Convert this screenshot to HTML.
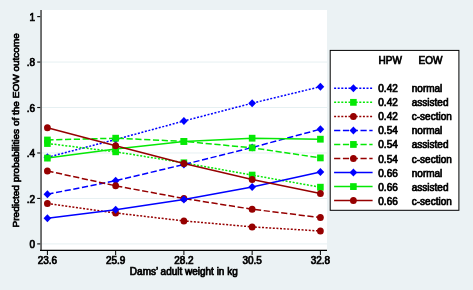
<!DOCTYPE html>
<html><head><meta charset="utf-8"><title>Predicted probabilities</title>
<style>
html,body{margin:0;padding:0;background:#ebf2f4;}
body{width:473px;height:290px;overflow:hidden;}
svg{display:block;will-change:transform;}
text{font-family:"Liberation Sans",Arial,sans-serif;font-size:10px;fill:#000;stroke:#000;stroke-width:0.7px;}
</style></head><body>
<svg width="473" height="290" viewBox="0 0 473 290">
<rect x="0" y="0" width="473" height="290" fill="#ebf2f4"/>
<rect x="41" y="10" width="286" height="240.5" fill="#ffffff"/>
<line x1="41" x2="327" y1="243.90" y2="243.90" stroke="#e6f0f2" stroke-width="1"/>
<line x1="41" x2="327" y1="198.44" y2="198.44" stroke="#e6f0f2" stroke-width="1"/>
<line x1="41" x2="327" y1="152.98" y2="152.98" stroke="#e6f0f2" stroke-width="1"/>
<line x1="41" x2="327" y1="107.52" y2="107.52" stroke="#e6f0f2" stroke-width="1"/>
<line x1="41" x2="327" y1="62.06" y2="62.06" stroke="#e6f0f2" stroke-width="1"/>
<line x1="41.05" x2="41.05" y1="10" y2="250.9" stroke="#5a5a5a" stroke-width="1.7"/>
<line x1="40" x2="327" y1="250.4" y2="250.4" stroke="#000" stroke-width="1.1"/>
<line x1="37.2" x2="40.3" y1="243.90" y2="243.90" stroke="#111" stroke-width="1.15"/>
<text transform="translate(35.10,248.25) scale(1,1.04)" text-anchor="end">0</text>
<line x1="37.2" x2="40.3" y1="198.44" y2="198.44" stroke="#111" stroke-width="1.15"/>
<text transform="translate(35.10,202.79) scale(1,1.04)" text-anchor="end">.2</text>
<line x1="37.2" x2="40.3" y1="152.98" y2="152.98" stroke="#111" stroke-width="1.15"/>
<text transform="translate(35.10,157.33) scale(1,1.04)" text-anchor="end">.4</text>
<line x1="37.2" x2="40.3" y1="107.52" y2="107.52" stroke="#111" stroke-width="1.15"/>
<text transform="translate(35.10,111.87) scale(1,1.04)" text-anchor="end">.6</text>
<line x1="37.2" x2="40.3" y1="62.06" y2="62.06" stroke="#111" stroke-width="1.15"/>
<text transform="translate(35.10,66.41) scale(1,1.04)" text-anchor="end">.8</text>
<line x1="37.2" x2="40.3" y1="16.60" y2="16.60" stroke="#111" stroke-width="1.15"/>
<text transform="translate(35.10,20.95) scale(1,1.04)" text-anchor="end">1</text>
<line x1="47.4" x2="47.4" y1="250.5" y2="255.0" stroke="#000" stroke-width="1"/>
<text transform="translate(47.40,263.80) scale(1,1.04)" text-anchor="middle">23.6</text>
<line x1="115.65" x2="115.65" y1="250.5" y2="255.0" stroke="#000" stroke-width="1"/>
<text transform="translate(115.65,263.80) scale(1,1.04)" text-anchor="middle">25.9</text>
<line x1="183.9" x2="183.9" y1="250.5" y2="255.0" stroke="#000" stroke-width="1"/>
<text transform="translate(183.90,263.80) scale(1,1.04)" text-anchor="middle">28.2</text>
<line x1="252.15" x2="252.15" y1="250.5" y2="255.0" stroke="#000" stroke-width="1"/>
<text transform="translate(252.15,263.80) scale(1,1.04)" text-anchor="middle">30.5</text>
<line x1="320.4" x2="320.4" y1="250.5" y2="255.0" stroke="#000" stroke-width="1"/>
<text transform="translate(320.40,263.80) scale(1,1.04)" text-anchor="middle">32.8</text>
<text transform="translate(183.80,274.60) scale(1,1.04)" text-anchor="middle">Dams’ adult weight in kg</text>
<text transform="translate(19.4,130.3) rotate(-90) scale(1.002,0.9)" text-anchor="middle" >Predicted probabilities of the EOW outcome</text>
<polyline points="47.40,157.30 115.65,139.50 183.90,121.00 252.15,103.20 320.40,86.70" fill="none" stroke="#0000ff" stroke-width="1.5" stroke-dasharray="2 1.6"/>
<polygon points="43.55,157.30 47.40,153.30 51.25,157.30 47.40,161.30" fill="#0000ff"/>
<polygon points="111.80,139.50 115.65,135.50 119.50,139.50 115.65,143.50" fill="#0000ff"/>
<polygon points="180.05,121.00 183.90,117.00 187.75,121.00 183.90,125.00" fill="#0000ff"/>
<polygon points="248.30,103.20 252.15,99.20 256.00,103.20 252.15,107.20" fill="#0000ff"/>
<polygon points="316.55,86.70 320.40,82.70 324.25,86.70 320.40,90.70" fill="#0000ff"/>
<polyline points="47.40,143.50 115.65,151.80 183.90,162.80 252.15,175.10 320.40,187.20" fill="none" stroke="#05e805" stroke-width="1.5" stroke-dasharray="2 1.6"/>
<rect x="44.10" y="140.10" width="6.6" height="6.8" fill="#05e805"/>
<rect x="112.35" y="148.40" width="6.6" height="6.8" fill="#05e805"/>
<rect x="180.60" y="159.40" width="6.6" height="6.8" fill="#05e805"/>
<rect x="248.85" y="171.70" width="6.6" height="6.8" fill="#05e805"/>
<rect x="317.10" y="183.80" width="6.6" height="6.8" fill="#05e805"/>
<polyline points="47.40,203.60 115.65,213.00 183.90,220.90 252.15,226.90 320.40,231.00" fill="none" stroke="#960000" stroke-width="1.5" stroke-dasharray="2 1.6"/>
<ellipse cx="47.40" cy="203.60" rx="3.4" ry="3.5" fill="#960000"/>
<ellipse cx="115.65" cy="213.00" rx="3.4" ry="3.5" fill="#960000"/>
<ellipse cx="183.90" cy="220.90" rx="3.4" ry="3.5" fill="#960000"/>
<ellipse cx="252.15" cy="226.90" rx="3.4" ry="3.5" fill="#960000"/>
<ellipse cx="320.40" cy="231.00" rx="3.4" ry="3.5" fill="#960000"/>
<polyline points="47.40,194.30 115.65,180.70 183.90,164.50 252.15,147.50 320.40,129.20" fill="none" stroke="#0000ff" stroke-width="1.5" stroke-dasharray="6.2 2.6"/>
<polygon points="43.55,194.30 47.40,190.30 51.25,194.30 47.40,198.30" fill="#0000ff"/>
<polygon points="111.80,180.70 115.65,176.70 119.50,180.70 115.65,184.70" fill="#0000ff"/>
<polygon points="180.05,164.50 183.90,160.50 187.75,164.50 183.90,168.50" fill="#0000ff"/>
<polygon points="248.30,147.50 252.15,143.50 256.00,147.50 252.15,151.50" fill="#0000ff"/>
<polygon points="316.55,129.20 320.40,125.20 324.25,129.20 320.40,133.20" fill="#0000ff"/>
<polyline points="47.40,140.00 115.65,138.20 183.90,141.40 252.15,147.80 320.40,157.90" fill="none" stroke="#05e805" stroke-width="1.5" stroke-dasharray="6.2 2.6"/>
<rect x="44.10" y="136.60" width="6.6" height="6.8" fill="#05e805"/>
<rect x="112.35" y="134.80" width="6.6" height="6.8" fill="#05e805"/>
<rect x="180.60" y="138.00" width="6.6" height="6.8" fill="#05e805"/>
<rect x="248.85" y="144.40" width="6.6" height="6.8" fill="#05e805"/>
<rect x="317.10" y="154.50" width="6.6" height="6.8" fill="#05e805"/>
<polyline points="47.40,170.90 115.65,185.80 183.90,198.50 252.15,209.20 320.40,217.60" fill="none" stroke="#960000" stroke-width="1.5" stroke-dasharray="6.2 2.6"/>
<ellipse cx="47.40" cy="170.90" rx="3.4" ry="3.5" fill="#960000"/>
<ellipse cx="115.65" cy="185.80" rx="3.4" ry="3.5" fill="#960000"/>
<ellipse cx="183.90" cy="198.50" rx="3.4" ry="3.5" fill="#960000"/>
<ellipse cx="252.15" cy="209.20" rx="3.4" ry="3.5" fill="#960000"/>
<ellipse cx="320.40" cy="217.60" rx="3.4" ry="3.5" fill="#960000"/>
<polyline points="47.40,218.30 115.65,209.70 183.90,199.60 252.15,186.90 320.40,171.90" fill="none" stroke="#0000ff" stroke-width="1.5" />
<polygon points="43.55,218.30 47.40,214.30 51.25,218.30 47.40,222.30" fill="#0000ff"/>
<polygon points="111.80,209.70 115.65,205.70 119.50,209.70 115.65,213.70" fill="#0000ff"/>
<polygon points="180.05,199.60 183.90,195.60 187.75,199.60 183.90,203.60" fill="#0000ff"/>
<polygon points="248.30,186.90 252.15,182.90 256.00,186.90 252.15,190.90" fill="#0000ff"/>
<polygon points="316.55,171.90 320.40,167.90 324.25,171.90 320.40,175.90" fill="#0000ff"/>
<polyline points="47.40,158.10 115.65,148.90 183.90,141.40 252.15,138.20 320.40,139.20" fill="none" stroke="#05e805" stroke-width="1.5" />
<rect x="44.10" y="154.70" width="6.6" height="6.8" fill="#05e805"/>
<rect x="112.35" y="145.50" width="6.6" height="6.8" fill="#05e805"/>
<rect x="180.60" y="138.00" width="6.6" height="6.8" fill="#05e805"/>
<rect x="248.85" y="134.80" width="6.6" height="6.8" fill="#05e805"/>
<rect x="317.10" y="135.80" width="6.6" height="6.8" fill="#05e805"/>
<polyline points="47.40,127.80 115.65,145.80 183.90,163.40 252.15,179.50 320.40,193.40" fill="none" stroke="#960000" stroke-width="1.5" />
<ellipse cx="47.40" cy="127.80" rx="3.4" ry="3.5" fill="#960000"/>
<ellipse cx="115.65" cy="145.80" rx="3.4" ry="3.5" fill="#960000"/>
<ellipse cx="183.90" cy="163.40" rx="3.4" ry="3.5" fill="#960000"/>
<ellipse cx="252.15" cy="179.50" rx="3.4" ry="3.5" fill="#960000"/>
<ellipse cx="320.40" cy="193.40" rx="3.4" ry="3.5" fill="#960000"/>
<rect x="330.2" y="50.4" width="128.7" height="159.9" fill="#ffffff" stroke="#000" stroke-width="1"/>
<text transform="translate(378.60,63.70) scale(1,1.04)" text-anchor="start">HPW</text>
<text transform="translate(418.60,63.70) scale(1,1.04)" text-anchor="start">EOW</text>
<line x1="334.1" x2="372.6" y1="88.30" y2="88.30" stroke="#0000ff" stroke-width="1.5" stroke-dasharray="2 1.6"/>
<polygon points="349.55,88.30 353.40,84.30 357.25,88.30 353.40,92.30" fill="#0000ff"/>
<text transform="translate(378.30,92.30) scale(1,1.04)" text-anchor="start">0.42</text>
<text transform="translate(411.80,92.30) scale(1,1.04)" text-anchor="start">normal</text>
<line x1="334.1" x2="372.6" y1="102.34" y2="102.34" stroke="#05e805" stroke-width="1.5" stroke-dasharray="2 1.6"/>
<rect x="350.10" y="98.94" width="6.6" height="6.8" fill="#05e805"/>
<text transform="translate(378.30,106.34) scale(1,1.04)" text-anchor="start">0.42</text>
<text transform="translate(411.80,106.34) scale(1,1.04)" text-anchor="start">assisted</text>
<line x1="334.1" x2="372.6" y1="116.38" y2="116.38" stroke="#960000" stroke-width="1.5" stroke-dasharray="2 1.6"/>
<ellipse cx="353.40" cy="116.38" rx="3.4" ry="3.5" fill="#960000"/>
<text transform="translate(378.30,120.38) scale(1,1.04)" text-anchor="start">0.42</text>
<text transform="translate(411.80,120.38) scale(1,1.04)" text-anchor="start">c-section</text>
<line x1="334.1" x2="372.6" y1="130.42" y2="130.42" stroke="#0000ff" stroke-width="1.5" stroke-dasharray="6.2 2.6"/>
<polygon points="349.55,130.42 353.40,126.42 357.25,130.42 353.40,134.42" fill="#0000ff"/>
<text transform="translate(378.30,134.42) scale(1,1.04)" text-anchor="start">0.54</text>
<text transform="translate(411.80,134.42) scale(1,1.04)" text-anchor="start">normal</text>
<line x1="334.1" x2="372.6" y1="144.46" y2="144.46" stroke="#05e805" stroke-width="1.5" stroke-dasharray="6.2 2.6"/>
<rect x="350.10" y="141.06" width="6.6" height="6.8" fill="#05e805"/>
<text transform="translate(378.30,148.46) scale(1,1.04)" text-anchor="start">0.54</text>
<text transform="translate(411.80,148.46) scale(1,1.04)" text-anchor="start">assisted</text>
<line x1="334.1" x2="372.6" y1="158.50" y2="158.50" stroke="#960000" stroke-width="1.5" stroke-dasharray="6.2 2.6"/>
<ellipse cx="353.40" cy="158.50" rx="3.4" ry="3.5" fill="#960000"/>
<text transform="translate(378.30,162.50) scale(1,1.04)" text-anchor="start">0.54</text>
<text transform="translate(411.80,162.50) scale(1,1.04)" text-anchor="start">c-section</text>
<line x1="334.1" x2="372.6" y1="172.54" y2="172.54" stroke="#0000ff" stroke-width="1.5" />
<polygon points="349.55,172.54 353.40,168.54 357.25,172.54 353.40,176.54" fill="#0000ff"/>
<text transform="translate(378.30,176.54) scale(1,1.04)" text-anchor="start">0.66</text>
<text transform="translate(411.80,176.54) scale(1,1.04)" text-anchor="start">normal</text>
<line x1="334.1" x2="372.6" y1="186.58" y2="186.58" stroke="#05e805" stroke-width="1.5" />
<rect x="350.10" y="183.18" width="6.6" height="6.8" fill="#05e805"/>
<text transform="translate(378.30,190.58) scale(1,1.04)" text-anchor="start">0.66</text>
<text transform="translate(411.80,190.58) scale(1,1.04)" text-anchor="start">assisted</text>
<line x1="334.1" x2="372.6" y1="200.62" y2="200.62" stroke="#960000" stroke-width="1.5" />
<ellipse cx="353.40" cy="200.62" rx="3.4" ry="3.5" fill="#960000"/>
<text transform="translate(378.30,204.62) scale(1,1.04)" text-anchor="start">0.66</text>
<text transform="translate(411.80,204.62) scale(1,1.04)" text-anchor="start">c-section</text>
</svg></body></html>
